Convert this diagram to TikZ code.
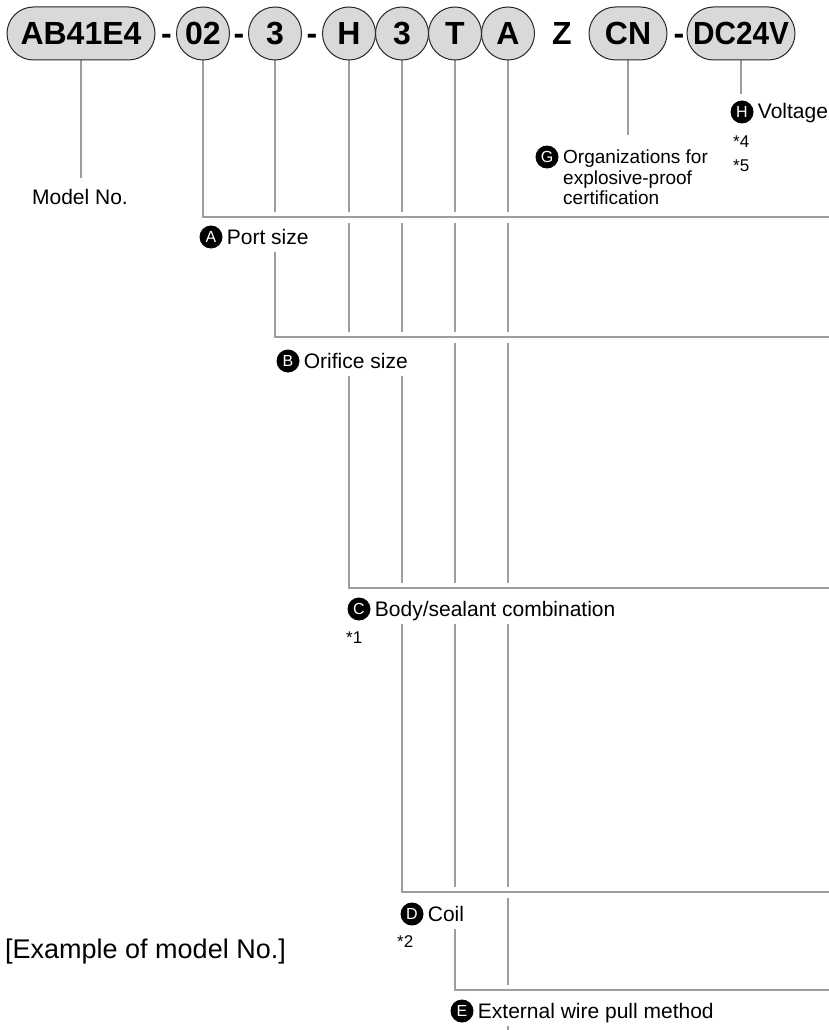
\documentclass[tikz,border=0pt]{standalone}
\usepackage{graphicx}
\usepackage{fontspec}
\setmainfont{Liberation Sans}
\definecolor{pillgray}{RGB}{217,217,217}
\definecolor{linegray}{RGB}{158,158,158}
\definecolor{edgecol}{RGB}{40,40,40}
\pgfdeclarelayer{lines}
\pgfsetlayers{lines,main}
\tikzset{
  pillfont/.style={font=\fontsize{32}{32}\selectfont\bfseries},
  pill/.style={pillfont, draw=edgecol, line width=1pt, fill=pillgray, rounded corners=26.5pt, minimum height=53pt, inner sep=0pt},
  pillc/.style={pillfont, draw=edgecol, line width=1pt, fill=pillgray, circle, minimum size=53pt, inner sep=0pt},
  sepch/.style={pillfont, inner sep=0pt, anchor=base},
  conn/.style={draw=linegray, line width=2pt},
  halo/.style={draw=white, line width=11pt},
  badge/.style={circle, fill=black, text=white, minimum size=23pt, inner sep=0pt, font=\fontsize{16}{16}\selectfont},
  lbl/.style={fill=white, anchor=base west, inner xsep=4pt, inner ysep=4pt, text height=21pt, text depth=4pt, font=\fontsize{21}{21}\selectfont},
  note/.style={anchor=west, inner sep=0pt, font=\fontsize{17}{17}\selectfont},
  plain/.style={inner sep=0pt, font=\fontsize{21}{21}\selectfont},
}
\begin{document}
\begin{tikzpicture}[x=1pt,y=-1pt]
\useasboundingbox (0,0) rectangle (829,1030);
% model number pills
\node[pill, minimum width=148pt] (pAB) at (81,33.5) {AB41E4};
\node[sepch] (d1) at (166.5,45) {-};
\node[pillc] (p02) at (203,33.5) {02};
\node[sepch] (d2) at (239,45) {-};
\node[pillc] (p3) at (275,33.5) {3};
\node[sepch] (d3) at (312,45) {-};
\node[pillc] (pH) at (349,33.5) {H};
\node[pillc] (p3b) at (402,33.5) {3};
\node[pillc] (pT) at (455,33.5) {T};
\node[pillc] (pA) at (508,33.5) {A};
\node[sepch] (z) at (562,45) {Z};
\node[pill, minimum width=78pt] (pCN) at (628,33.5) {CN};
\node[sepch] (d4) at (679,45) {-};
\node[pill, minimum width=108pt] (pDC) at (741,33.5) {\scalebox{0.93}[1]{DC24V}};
% right-edge coordinates of the horizontal runs
\coordinate (rA) at (829,217);
\coordinate (rB) at (829,337);
\coordinate (rC) at (829,588);
\coordinate (rD) at (829,892);
\coordinate (rE) at (829,990);
\coordinate (bot) at (0,1030);
% labels
\node[plain] (mno) at (80,197) {Model No.};
\node[badge] (bG) at (547,157) {G};
\node[anchor=north west, inner sep=0pt, align=left, font=\fontsize{19}{20.5}\selectfont] (tG) at (563,150) {Organizations for\\explosive-proof\\certification};
\node[badge] (bH) at (742,112) {H};
\node[lbl] (tH) at ([yshift=-7pt]bH.east) {Voltage};
\node[note] (n4) at (733,142) {*4};
\node[note] (n5) at (733,166) {*5};
\node[badge] (bA) at (211,237) {A};
\node[lbl] (tA) at ([yshift=-7pt]bA.east) {Port size};
\node[badge] (bB) at (288,361) {B};
\node[lbl] (tB) at ([yshift=-7pt]bB.east) {Orifice size};
\node[badge] (bC) at (359,609) {C};
\node[lbl] (tC) at ([yshift=-7pt]bC.east) {Body/sealant combination};
\node[note] (n1) at (346,638) {*1};
\node[badge] (bD) at (412,914) {D};
\node[lbl] (tD) at ([yshift=-7pt]bD.east) {Coil};
\node[note] (n2) at (397,942) {*2};
\node[badge] (bE) at (462,1011) {E};
\node[lbl] (tE) at ([yshift=-7pt]bE.east) {External wire pull method};
\node[anchor=west, inner sep=0pt, font=\fontsize{27}{27}\selectfont] (ex) at (5,952) {[Example of model No.]};
% connectors
\begin{pgfonlayer}{lines}
  \draw[conn, shorten >=11pt] (pAB.south) -- (pAB.south |- mno.north);
  \draw[conn, shorten >=15pt] (pCN.south) -- (pCN.south |- tG.north);
  \draw[conn, shorten >=6pt] (pDC.south) -- (pDC.south |- bH.north);
  \draw[conn] (p02.south) |- (rA);
  \draw[conn] (p3.south) |- (rB);
  \draw[conn] (pH.south) |- (rC);
  \draw[conn] (p3b.south) |- (rD);
  \draw[conn] (pT.south) |- (rE);
  \draw[conn] (pA.south) -- (pA.south |- bot);
  \foreach \p/\r in {p02/rA, p3/rB, pH/rC, p3b/rD, pT/rE} {
    \draw[halo, shorten <=1.5pt] (\p.south |- \r) -- (\r);
    \draw[conn] (\p.south |- \r) -- (\r);
  }
\end{pgfonlayer}
\end{tikzpicture}
\end{document}
